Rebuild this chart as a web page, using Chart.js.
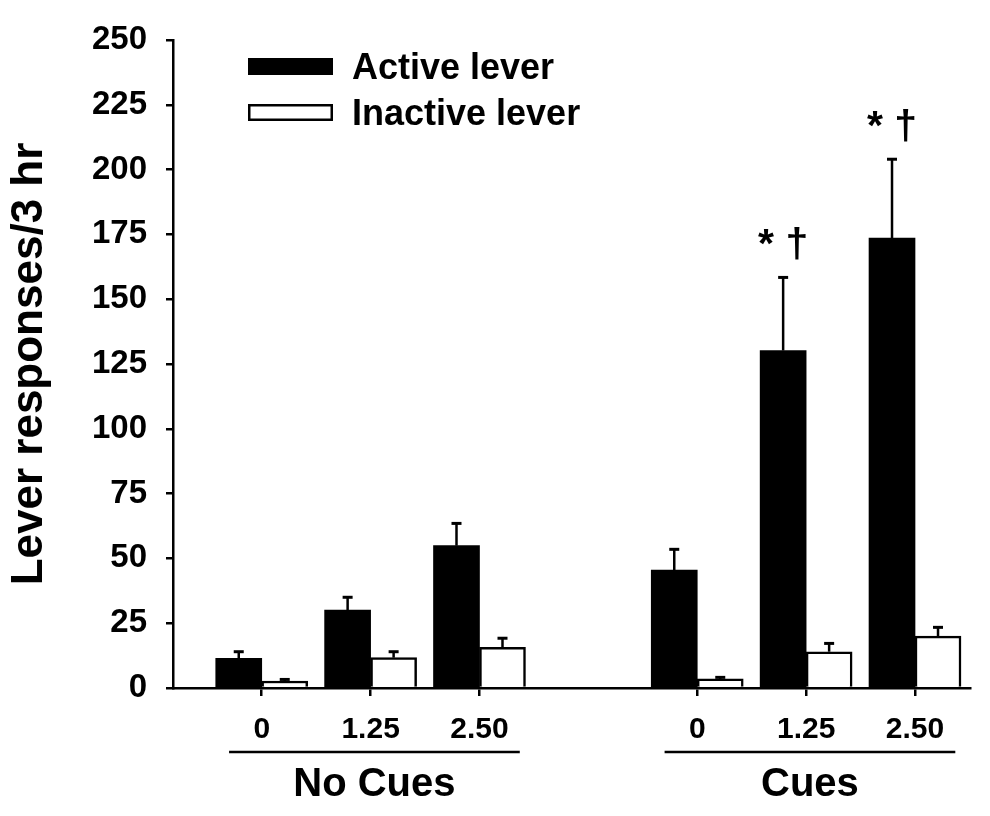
<!DOCTYPE html>
<html>
<head>
<meta charset="utf-8">
<script src="https://cdn.jsdelivr.net/npm/chart.js@4"></script>
<style>
  html, body { margin: 0; padding: 0; background: #fff; }
  #wrap { width: 990px; height: 816px; position: relative; }
</style>
</head>
<body>
<div id="wrap"><canvas id="chart"></canvas></div>
<script>
// === Daten ===
// Dosis-Beschriftung je x-Position; Position 3 ist die Lücke zwischen den Gruppen
const doseLabels = ['0', '1.25', '2.50', '', '0', '1.25', '2.50'];

const activeLever   = [11.4, 30.1, 54.9, null, 45.5, 130.2, 173.6];
const activeSem     = [2.6, 4.9, 8.6, null, 8.0, 28.2, 30.4];
const inactiveLever = [2.7, 11.7, 15.7, null, 3.5, 14.0, 20.0];
const inactiveSem   = [0.6, 2.3, 3.5, null, 0.6, 3.2, 3.4];

const groupNames  = ['No Cues', 'Cues'];
const groupRanges = [[0, 2], [4, 6]];   // erste/letzte x-Position je Gruppe
const markedDoses = [5, 6];             // Balken mit "* †"
const markText = '* \u2020';

const FONT = "'Liberation Sans', Arial, Helvetica, sans-serif";

// {x, y}-Punkte für die lineare x-Achse, Lücken weglassen
function toXY(values) {
  return values.map((v, i) => ({ x: i, y: v })).filter(p => p.y !== null);
}

// Fehlerbalken (nur nach oben) mit Querstrich
const errorBars = {
  id: 'errorBars',
  afterDatasetsDraw(chart) {
    const { ctx, scales: { y } } = chart;
    ctx.save();
    ctx.strokeStyle = '#000';
    chart.data.datasets.forEach((ds, di) => {
      const meta = chart.getDatasetMeta(di);
      meta.data.forEach((bar, j) => {
        const p = ds.data[j];
        const top = y.getPixelForValue(p.y + ds.errors[p.x]);
        ctx.lineWidth = 2.5;
        ctx.beginPath();
        ctx.moveTo(bar.x, bar.y);
        ctx.lineTo(bar.x, top);
        ctx.stroke();
        ctx.lineWidth = 3;
        ctx.beginPath();
        ctx.moveTo(bar.x - 5, top);
        ctx.lineTo(bar.x + 5, top);
        ctx.stroke();
      });
    });
    ctx.restore();
  }
};

// Signifikanz-Zeichen, Legende und Gruppenbeschriftung
const extras = {
  id: 'extras',
  afterDraw(chart) {
    const { ctx, scales: { x, y }, chartArea } = chart;
    ctx.save();
    ctx.fillStyle = '#000';

    // "* †" über den aktiven Balken
    const meta = chart.getDatasetMeta(0);
    ctx.font = `bold 41px ${FONT}`;
    ctx.textAlign = 'center';
    ctx.textBaseline = 'alphabetic';
    markedDoses.forEach(i => {
      const j = chart.data.datasets[0].data.findIndex(p => p.x === i);
      const bar = meta.data[j];
      const top = y.getPixelForValue(activeLever[i] + activeSem[i]);
      ctx.fillText(markText, bar.x, top - 20);
    });

    // Legende oben links im Diagramm
    const rows = [66.5, 112.5];
    ctx.font = `bold 36px ${FONT}`;
    ctx.textAlign = 'left';
    ctx.textBaseline = 'middle';
    chart.data.datasets.forEach((ds, di) => {
      const cy = rows[di];
      ctx.fillStyle = ds.backgroundColor;
      ctx.fillRect(248, cy - 8.5, 85, 17);
      if (di === 1) {
        ctx.strokeStyle = '#000';
        ctx.lineWidth = 2.5;
        ctx.strokeRect(249.25, cy - 7.25, 82.5, 14.5);
      }
      ctx.fillStyle = '#000';
      ctx.fillText(ds.label, 352, cy + 3);
    });

    // Gruppen: Linie + Name unter den Dosis-Beschriftungen
    const lineY = chartArea.bottom + 64;
    ctx.lineWidth = 2.5;
    ctx.strokeStyle = '#000';
    ctx.font = `bold 40px ${FONT}`;
    ctx.textAlign = 'center';
    groupRanges.forEach(([a, b], g) => {
      const x0 = x.getPixelForValue(a - 0.3);
      const x1 = x.getPixelForValue(b + 0.37);
      ctx.beginPath();
      ctx.moveTo(x0, lineY);
      ctx.lineTo(x1, lineY);
      ctx.stroke();
      ctx.fillText(groupNames[g], (x0 + x1) / 2, lineY + 33);
    });
    ctx.restore();
  }
};

new Chart(document.getElementById('chart'), {
  type: 'bar',
  data: {
    datasets: [
      {
        label: 'Active lever',
        data: toXY(activeLever),
        errors: activeSem,
        backgroundColor: '#000',
        borderColor: '#000',
        borderWidth: 0,
        barThickness: 46
      },
      {
        label: 'Inactive lever',
        data: toXY(inactiveLever),
        errors: inactiveSem,
        backgroundColor: '#fff',
        borderColor: '#000',
        borderWidth: 2.5,
        barThickness: 46
      }
    ]
  },
  options: {
    responsive: true,
    maintainAspectRatio: false,
    animation: false,
    layout: { padding: { top: 40, right: 20, left: 0, bottom: 0 } },
    plugins: {
      legend: { display: false },
      tooltip: { enabled: false }
    },
    scales: {
      x: {
        type: 'linear',
        min: -0.815,
        max: 6.505,
        offset: false,
        afterBuildTicks: s => { s.ticks = doseLabels.map((_, i) => ({ value: i })); },
        afterFit: s => { s.height = 128; },
        grid: {
          offset: false,
          drawOnChartArea: false,
          tickLength: 8,
          lineWidth: 2.5,
          color: ctx => (ctx.tick && doseLabels[ctx.tick.value] === '') ? 'rgba(0,0,0,0)' : '#000'
        },
        border: { color: '#000', width: 2.5 },
        ticks: {
          autoSkip: false,
          maxRotation: 0,
          padding: 16,
          color: '#000',
          font: { family: FONT, size: 30, weight: 'bold' },
          callback: v => doseLabels[v] ?? ''
        }
      },
      y: {
        min: 0,
        max: 250,
        afterFit: s => { s.width = 173; },
        grid: { drawOnChartArea: false, tickLength: 7, lineWidth: 2.5, color: '#000' },
        border: { color: '#000', width: 2.5 },
        ticks: {
          stepSize: 25,
          padding: 19,
          color: '#000',
          font: { family: FONT, size: 33, weight: 'bold' }
        },
        title: {
          display: true,
          text: 'Lever responses/3 hr',
          color: '#000',
          padding: { top: 3, bottom: 0 },
          font: { family: FONT, size: 44, weight: 'bold' }
        }
      }
    }
  },
  plugins: [errorBars, extras]
});
</script>
</body>
</html>
